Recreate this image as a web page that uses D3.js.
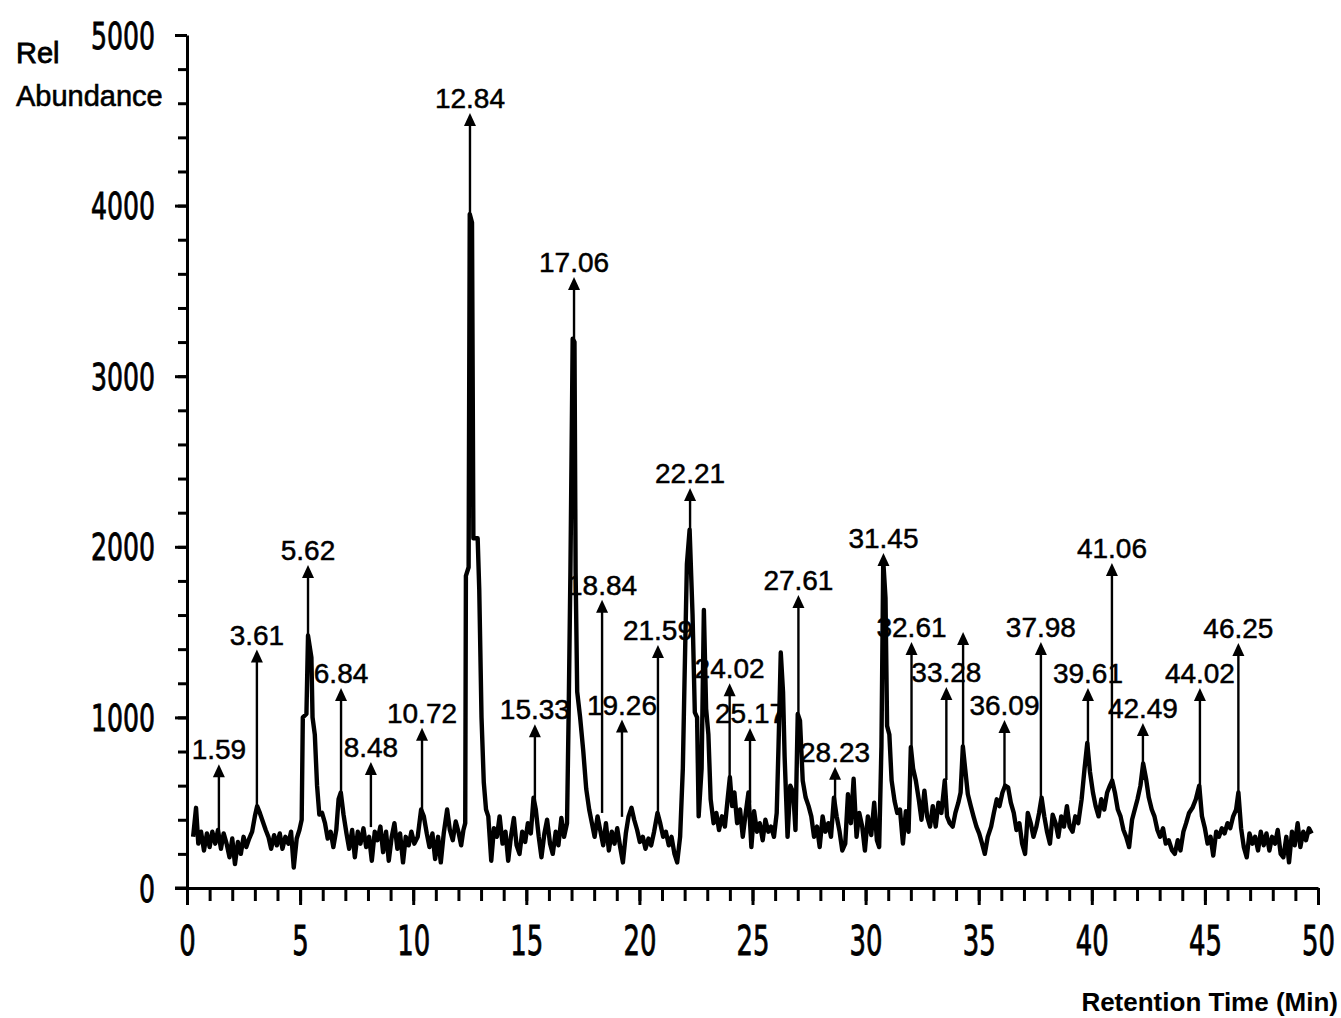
<!DOCTYPE html>
<html>
<head>
<meta charset="utf-8">
<script src="https://cdn.jsdelivr.net/npm/d3@7"></script>
<style>
  html, body { margin: 0; padding: 0; background: #fff; }
  svg { display: block; }
</style>
</head>
<body>
<svg id="chart" width="1341" height="1018"></svg>
<script>
// ---------------- DATA ----------------
const yMajorTicks = [0, 1000, 2000, 3000, 4000, 5000];
const xMajorTicks = [0, 5, 10, 15, 20, 25, 30, 35, 40, 45, 50];

// chromatogram trace: [retention time (min), relative abundance]
const trace = [
[0.27,300],[0.4,470],[0.5,260],[0.62,330],[0.75,220],[0.88,320],[1.0,240],[1.12,330],[1.25,260],[1.37,340],
[1.5,230],[1.62,320],[1.75,260],[1.88,180],[2.0,290],[2.12,140],[2.25,270],[2.38,200],[2.5,300],[2.62,240],
[2.75,290],[2.88,330],[3.0,420],[3.1,480],[3.22,440],[3.35,390],[3.48,340],[3.6,300],[3.72,230],[3.85,310],
[3.97,250],[4.1,320],[4.22,230],[4.35,300],[4.48,260],[4.6,330],[4.72,120],[4.85,290],[4.97,340],[5.07,400],
[5.12,1000],[5.28,1020],[5.35,1480],[5.5,1350],[5.55,1000],[5.65,900],[5.75,600],[5.85,430],[5.97,440],[6.1,380],
[6.22,290],[6.35,330],[6.47,240],[6.6,340],[6.7,520],[6.8,560],[6.92,430],[7.05,320],[7.17,230],[7.3,340],
[7.42,180],[7.55,330],[7.67,260],[7.8,350],[7.92,240],[8.05,300],[8.17,160],[8.3,330],[8.42,280],[8.55,360],
[8.67,210],[8.8,330],[8.92,160],[9.05,300],[9.17,380],[9.3,230],[9.42,320],[9.55,150],[9.67,300],[9.8,250],
[9.92,330],[10.05,260],[10.2,300],[10.35,460],[10.47,420],[10.6,320],[10.72,240],[10.85,320],[10.97,170],[11.1,300],
[11.22,150],[11.35,320],[11.5,460],[11.62,340],[11.75,280],[11.88,390],[12.0,330],[12.12,250],[12.22,340],[12.3,380],
[12.33,1830],[12.45,1880],[12.5,3950],[12.6,3900],[12.66,2050],[12.85,2050],[12.92,1750],[13.02,1000],[13.12,620],[13.22,460],
[13.32,420],[13.45,160],[13.57,350],[13.7,300],[13.82,420],[13.95,260],[14.08,330],[14.2,160],[14.32,300],[14.45,410],
[14.57,250],[14.7,200],[14.82,330],[14.95,270],[15.07,380],[15.2,320],[15.32,530],[15.42,460],[15.55,300],[15.67,180],
[15.8,320],[15.92,400],[16.05,260],[16.17,200],[16.3,330],[16.42,250],[16.55,410],[16.67,300],[16.8,380],[16.87,1000],
[16.95,1850],[17.05,3220],[17.13,3200],[17.18,1850],[17.25,1150],[17.38,1000],[17.52,800],[17.65,580],[17.78,460],[17.9,380],
[18.02,300],[18.15,420],[18.28,330],[18.4,250],[18.52,380],[18.65,220],[18.78,330],[18.9,260],[19.02,350],[19.15,240],
[19.27,150],[19.4,320],[19.52,420],[19.65,470],[19.77,400],[19.9,340],[20.02,270],[20.15,300],[20.27,230],[20.4,290],
[20.52,250],[20.65,330],[20.8,440],[20.92,380],[21.05,300],[21.17,330],[21.3,250],[21.42,300],[21.55,200],[21.67,150],
[21.8,300],[21.92,700],[22.0,1250],[22.1,1900],[22.22,2100],[22.35,1600],[22.45,1030],[22.55,1000],[22.62,420],[22.75,700],
[22.85,1630],[22.95,1050],[23.05,900],[23.15,520],[23.28,380],[23.4,440],[23.52,340],[23.65,420],[23.78,360],[23.9,520],
[24.0,650],[24.1,480],[24.2,560],[24.32,380],[24.45,460],[24.57,300],[24.7,440],[24.82,560],[24.95,240],[25.07,450],
[25.2,330],[25.32,380],[25.45,280],[25.57,400],[25.7,330],[25.82,360],[25.95,300],[26.07,440],[26.15,830],[26.25,1380],
[26.35,1150],[26.42,770],[26.55,300],[26.67,600],[26.8,560],[26.9,340],[27.0,1020],[27.1,980],[27.22,630],[27.35,530],
[27.48,480],[27.6,420],[27.72,300],[27.85,360],[27.97,240],[28.1,420],[28.22,330],[28.35,380],[28.47,300],[28.6,530],
[28.72,420],[28.85,330],[28.97,220],[29.1,260],[29.22,550],[29.35,380],[29.47,640],[29.6,300],[29.72,440],[29.85,360],
[29.97,220],[30.1,420],[30.25,310],[30.38,500],[30.5,280],[30.6,240],[30.7,830],[30.78,1920],[30.88,1700],[30.95,950],
[31.05,900],[31.15,630],[31.28,510],[31.4,440],[31.52,460],[31.65,260],[31.78,450],[31.9,330],[32.0,826],[32.1,700],
[32.22,630],[32.35,520],[32.47,400],[32.6,570],[32.72,420],[32.85,360],[32.97,480],[33.1,360],[33.22,500],[33.35,440],
[33.5,630],[33.6,420],[33.72,380],[33.85,360],[33.97,440],[34.1,500],[34.2,560],[34.3,830],[34.4,700],[34.52,550],
[34.65,480],[34.77,420],[34.9,360],[35.02,320],[35.15,260],[35.27,200],[35.4,300],[35.55,360],[35.67,440],[35.8,520],
[35.92,480],[36.05,560],[36.17,600],[36.3,590],[36.42,500],[36.55,440],[36.67,340],[36.8,380],[36.92,260],[37.05,200],
[37.17,440],[37.3,380],[37.42,300],[37.55,360],[37.67,440],[37.78,530],[37.9,420],[38.02,330],[38.15,260],[38.27,430],
[38.4,380],[38.52,300],[38.65,420],[38.77,360],[38.9,480],[39.02,360],[39.15,330],[39.27,420],[39.4,380],[39.55,520],
[39.68,700],[39.8,850],[39.92,680],[40.05,560],[40.17,480],[40.3,420],[40.42,520],[40.55,460],[40.68,560],[40.8,600],
[40.9,630],[41.02,560],[41.15,460],[41.27,420],[41.4,340],[41.52,300],[41.65,240],[41.78,400],[41.9,460],[42.02,520],
[42.15,600],[42.27,730],[42.4,640],[42.52,530],[42.65,460],[42.77,420],[42.9,340],[43.02,300],[43.15,350],[43.27,260],
[43.4,280],[43.55,220],[43.67,200],[43.8,280],[43.92,220],[44.05,330],[44.17,380],[44.3,440],[44.45,470],[44.6,520],
[44.75,600],[44.87,420],[45.0,350],[45.12,260],[45.25,300],[45.37,190],[45.5,330],[45.62,300],[45.75,350],[45.87,320],
[46.0,380],[46.12,350],[46.25,420],[46.38,460],[46.48,560],[46.6,350],[46.72,240],[46.85,180],[46.97,320],[47.1,260],
[47.22,300],[47.35,220],[47.47,330],[47.6,250],[47.72,320],[47.85,220],[47.97,300],[48.1,260],[48.22,340],[48.35,200],
[48.47,180],[48.6,300],[48.72,150],[48.85,330],[48.97,250],[49.1,380],[49.22,240],[49.35,330],[49.47,280],[49.6,350],
[49.72,320]
];

// annotated peaks (arrow position, arrow top, arrow base, label)
const peakLabels  = ["1.59","3.61","5.62","6.84","8.48","10.72","12.84","15.33","17.06","18.84","19.26","21.59","22.21","24.02","25.17","27.61","28.23","31.45","32.61","33.28","","36.09","37.98","39.61","41.06","42.49","44.02","46.25"];
const peakTimes   = [1.41,3.09,5.35,6.81,8.13,10.39,12.51,15.38,17.11,18.35,19.23,20.82,22.24,23.99,24.89,27.03,28.65,30.79,32.03,33.57,34.31,36.14,37.75,39.83,40.89,42.26,44.78,46.48];
const peakHeights = [725,1398,1893,1172,739,940,4543,960,3581,1690,987,1424,2345,1200,938,1717,710,1963,1442,1178,1500,985,1442,1172,1905,967,1172,1436];
const peakBases   = [340,457,1400,530,357,420,3900,515,3200,440,417,440,2100,633,500,1025,440,1900,826,633,826,592,533,733,633,633,533,440];

// ---------------- CHART ----------------
const svg = d3.select("#chart");
const x = d3.scaleLinear().domain([0, 50]).range([187, 1318]);
const y = d3.scaleLinear().domain([0, 5000]).range([888, 35]);

const font = "'Liberation Sans', Arial, sans-serif";
const tickFont = "'DejaVu Sans Condensed', 'DejaVu Sans', sans-serif";

// minor y ticks
svg.append("g").attr("transform", "translate(187,0)")
  .call(d3.axisLeft(y).tickValues(d3.range(0, 5001, 200)).tickSize(9).tickSizeOuter(0).tickFormat(""))
  .call(g => g.selectAll("line").attr("stroke", "#000").attr("stroke-width", 3))
  .call(g => g.select(".domain").remove());

// major y axis
const yAx = svg.append("g").attr("transform", "translate(187,0)")
  .call(d3.axisLeft(y).tickValues(yMajorTicks).tickSize(12).tickSizeOuter(0).tickFormat(d3.format("d")));
yAx.select(".domain").attr("stroke", "#000").attr("stroke-width", 3);
yAx.selectAll("line").attr("stroke", "#000").attr("stroke-width", 3);
yAx.selectAll("text")
  .attr("x", null).attr("dy", null)
  .attr("font-family", tickFont).attr("font-size", 37).attr("fill", "#000")
  .attr("stroke", "#000").attr("stroke-width", 0.8)
  .attr("text-anchor", "end")
  .attr("transform", "translate(-32,13) scale(0.755,1)");

// minor x ticks
svg.append("g").attr("transform", "translate(0,888)")
  .call(d3.axisBottom(x).tickValues(d3.range(0, 51, 1)).tickSize(13).tickSizeOuter(0).tickFormat(""))
  .call(g => g.selectAll("line").attr("stroke", "#000").attr("stroke-width", 3))
  .call(g => g.select(".domain").remove());

// major x axis
const xAx = svg.append("g").attr("transform", "translate(0,888)")
  .call(d3.axisBottom(x).tickValues(xMajorTicks).tickSize(17).tickSizeOuter(0).tickFormat(d3.format("d")));
xAx.select(".domain").attr("stroke", "#000").attr("stroke-width", 3);
xAx.selectAll("line").attr("stroke", "#000").attr("stroke-width", 3);
xAx.selectAll("text")
  .attr("y", null).attr("dy", null)
  .attr("font-family", tickFont).attr("font-size", 40).attr("fill", "#000")
  .attr("stroke", "#000").attr("stroke-width", 0.8)
  .attr("text-anchor", "middle")
  .attr("transform", "translate(0,67) scale(0.72,1)");

// extend x axis line slightly left of y axis (as in reference)
svg.append("line").attr("x1", 175).attr("x2", 187).attr("y1", 888).attr("y2", 888)
  .attr("stroke", "#000").attr("stroke-width", 3);

// axis titles
svg.append("text").attr("x", 16).attr("y", 63).text("Rel")
  .attr("font-family", font).attr("font-size", 29).attr("fill", "#000").attr("stroke", "#000").attr("stroke-width", 0.8);
svg.append("text").attr("x", 16).attr("y", 106).text("Abundance")
  .attr("font-family", font).attr("font-size", 29).attr("fill", "#000").attr("stroke", "#000").attr("stroke-width", 0.6);
svg.append("text").attr("x", 1338).attr("y", 1011).text("Retention Time (Min)")
  .attr("font-family", font).attr("font-size", 26).attr("font-weight", "bold").attr("text-anchor", "end").attr("fill", "#000");

const peaks = peakTimes.map((t, i) => ({t, top: peakHeights[i], base: peakBases[i], label: peakLabels[i]}));

// peak labels (under the trace)
svg.append("g").selectAll("text").data(peaks.filter(d => d.label)).join("text")
  .attr("x", d => x(d.t)).attr("y", d => y(d.top) - 5)
  .attr("text-anchor", "middle")
  .attr("font-family", font).attr("font-size", 28).attr("fill", "#000")
  .attr("stroke", "#000").attr("stroke-width", 0.5)
  .text(d => d.label);

// trace
const line = d3.line().x(d => x(d[0])).y(d => y(d[1]));
svg.append("path").datum(trace).attr("d", line)
  .attr("fill", "none").attr("stroke", "#000").attr("stroke-width", 4.4)
  .attr("stroke-linejoin", "round");

// arrows
const ag = svg.append("g");
ag.selectAll("line").data(peaks).join("line")
  .attr("x1", d => x(d.t)).attr("x2", d => x(d.t))
  .attr("y1", d => y(d.base)).attr("y2", d => y(d.top) + 6)
  .attr("stroke", "#000").attr("stroke-width", 2.4);
ag.selectAll("path").data(peaks).join("path")
  .attr("d", d => { const cx = x(d.t), ty = y(d.top); return `M${cx},${ty} L${cx - 6},${ty + 13} L${cx + 6},${ty + 13} Z`; })
  .attr("fill", "#000");
</script>
</body>
</html>
